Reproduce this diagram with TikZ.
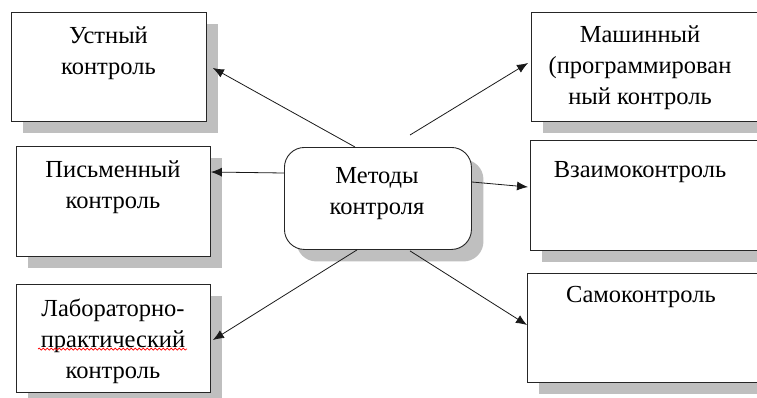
\documentclass[tikz,border=0pt]{standalone}
\usepackage{fontspec}
\setmainfont{Liberation Serif}
\usetikzlibrary{shadows, calc, arrows.meta, decorations.pathmorphing}

\begin{document}
\begin{tikzpicture}[x=1pt, y=-1pt,
	>={Latex[length=11pt,width=9pt]},   % Pfeilspitzen
	box/.style={draw=black!85, line width=0.9pt, fill=white, inner sep=0pt, anchor=north west,
		drop shadow={shadow xshift=12pt, shadow yshift=-12pt, fill=black!25, opacity=1}},
	txt/.style={anchor=north, inner sep=0pt, align=center, font=\fontsize{24.5}{31}\selectfont},
	pfeil/.style={->, line width=0.8pt, black!90}]
	\useasboundingbox (0,0) rectangle (757,397);
	% Kaesten links
	\node[box, minimum width=195pt, minimum height=109pt] (ustn) at (11,12) {};
	\node[box, minimum width=194pt, minimum height=110pt] (schr) at (16,146) {};
	\node[box, minimum width=194pt, minimum height=108pt] (lab) at (16,284) {};
	% Kaesten rechts
	\node[box, minimum width=227pt, minimum height=109pt] (masch) at (531,12) {};
	\node[box, minimum width=228pt, minimum height=110pt] (gegen) at (530,140) {};
	\node[box, minimum width=231pt, minimum height=109pt] (selbst) at (527,273) {};
	% Mitte
	\node[box, rounded corners=20pt, minimum width=187pt, minimum height=102pt] (met) at (284,147) {};
	% Beschriftung
	\node[txt] (ustnT) at (108.5,27) {Устный\\контроль};
	\node[txt] (schrT) at (113,161) {Письменный\\контроль};
	\node[txt] (labT) at (113,299) {Лабораторно-\\практический\\контроль};
	\node[txt] (maschT) at (640,26) {Машинный\\(программирован\\ный контроль};
	\node[txt] (gegenT) at (640,161) {Взаимоконтроль};
	\node[txt] (selbstT) at (641,286) {Самоконтроль};
	\node[txt] (metT) at (377,167) {Методы\\контроля};
	% Rechtschreibmarke
	\draw[red, line width=0.7pt, decorate, decoration={snake, amplitude=1pt, segment length=4pt}] (38,349) -- (187,349);
	% Pfeile
	\draw[pfeil] ($(met.north west)+(71,0)$) -- ($(ustn.north east)+(6,56)$);
	\draw[pfeil] ($(met.north west)+(0,26)$) -- ($(schr.north east)+(0,26)$);
	\draw[pfeil] ($(met.south west)+(73,0)$) -- ($(lab.north east)+(2,56)$);
	\draw[pfeil] ($(met.north west)+(126,-12)$) -- ($(masch.north west)+(-3,51)$);
	\draw[pfeil] ($(met.north east)+(0,35)$) -- ($(gegen.north west)+(-2,47)$);
	\draw[pfeil] ($(met.south west)+(126,1)$) -- ($(selbst.north west)+(0,52)$);
\end{tikzpicture}
\end{document}
